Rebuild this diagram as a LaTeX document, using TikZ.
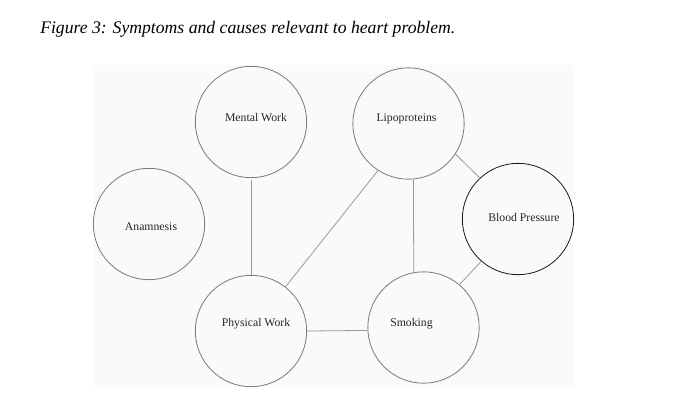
\documentclass[tikz,border=0pt]{standalone}
\usepackage{fontspec}
\setmainfont{Liberation Serif}
\definecolor{circgray}{HTML}{7A7A7A}
\definecolor{linegray}{HTML}{999999}
\definecolor{bggray}{HTML}{FAFAFA}
\definecolor{darkline}{HTML}{1A1A1A}
\begin{document}
\begin{tikzpicture}[x=0.75pt,y=-0.75pt,
  bubble/.style={circle,draw=circgray,line width=0.6pt,minimum size=83.5pt,inner sep=0pt},
  lbl/.style={font=\fontsize{8.8}{10}\selectfont,inner sep=0pt,text=black!85},
  link/.style={draw=linegray,line width=0.6pt}]
\useasboundingbox (0,0) rectangle (698,401);
\fill[bggray] (93,65) rectangle (573,387);
\node[anchor=base west,inner sep=0pt,font=\fontsize{13.25}{15}\selectfont\itshape] (cap) at (40,33) {Figure 3: Symptoms and causes relevant to heart problem.};
\node[bubble,label={[lbl,xshift=3.75pt,yshift=3pt]center:Mental Work}] (mw) at (251,122) {};
\node[bubble,label={[lbl,xshift=1.5pt,yshift=-2.25pt]center:Anamnesis}] (an) at (149,224) {};
\node[bubble,label={[lbl,xshift=-1.5pt,yshift=3.75pt]center:Lipoproteins}] (lip) at (408.5,123.5) {};
\node[bubble,draw=darkline,label={[lbl,xshift=4.5pt,yshift=1.5pt]center:Blood Pressure}] (bp) at (518,219) {};
\node[bubble,label={[lbl,xshift=3.75pt,yshift=5.25pt]center:Physical Work}] (pw) at (251,331) {};
\node[bubble,label={[lbl,xshift=-9pt,yshift=2.6pt]center:Smoking}] (sm) at (423.5,327.5) {};
\draw[link] ([yshift=-1.5pt]mw.south) -- (pw.north);
\draw[link] (lip.237.5) -- (pw.52.5);
\draw[link] (lip.-85) -- (sm.100.5);
\draw[link] (lip.-33.5) -- (bp.133.5);
\draw[link] (bp.-131) -- (sm.50);
\draw[link] (pw.east) -- (sm.183.6);
\end{tikzpicture}
\end{document}
